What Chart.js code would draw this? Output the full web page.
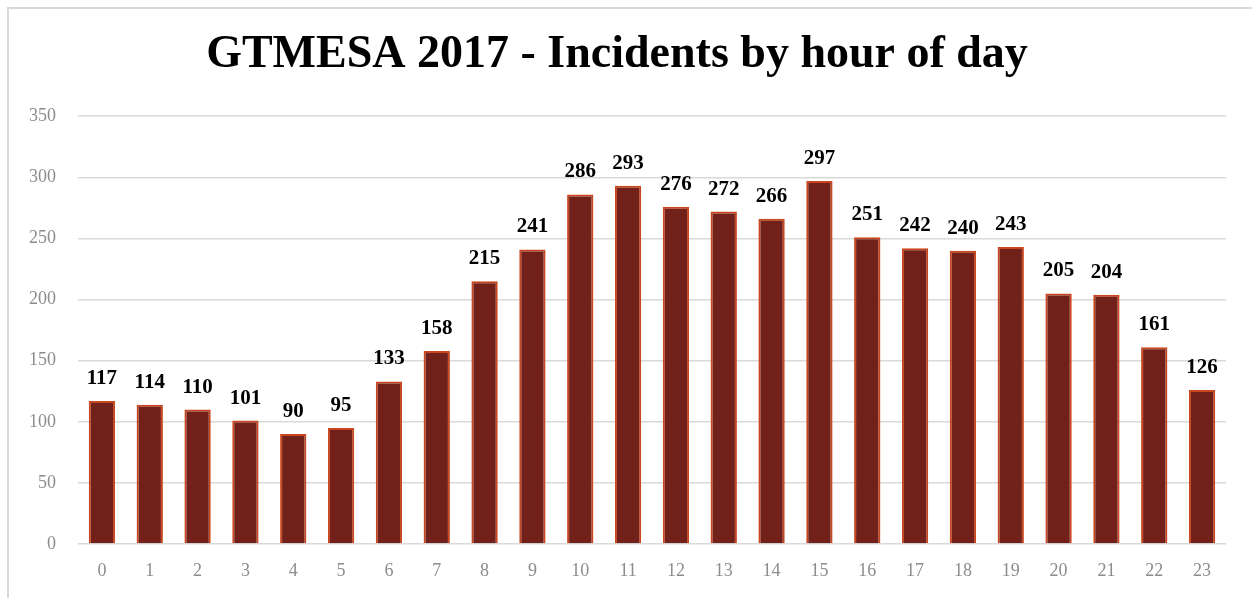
<!DOCTYPE html>
<html>
<head>
<meta charset="utf-8">
<script src="https://cdn.jsdelivr.net/npm/chart.js@4.4.1/dist/chart.umd.min.js"></script>
<style>
  html, body { margin: 0; padding: 0; background: #fff; }
  #wrap { position: relative; width: 1252px; height: 598px; overflow: hidden; }
  #frame {
    position: absolute; left: 7px; top: 7px; right: -10px; bottom: -10px;
    border-left: 2px solid #d9d9d9; border-top: 2px solid #d9d9d9;
  }
  canvas { position: absolute; left: 0; top: 0; }
</style>
</head>
<body>
<div id="wrap">
  <div id="frame"></div>
  <canvas id="chart" width="1252" height="598"></canvas>
</div>
<script>
const chartTitle = "GTMESA 2017 - Incidents by hour of day";
const hours = ["0","1","2","3","4","5","6","7","8","9","10","11","12","13","14","15","16","17","18","19","20","21","22","23"];
const incidents = [117, 114, 110, 101, 90, 95, 133, 158, 215, 241, 286, 293, 276, 272, 266, 297, 251, 242, 240, 243, 205, 204, 161, 126];
const yTicks = [0, 50, 100, 150, 200, 250, 300, 350];

const serif = "'Liberation Serif', 'DejaVu Serif', serif";

// writes the count above each bar
const valueLabels = {
  id: "valueLabels",
  afterDatasetsDraw(chart) {
    const ctx = chart.ctx;
    const meta = chart.getDatasetMeta(0);
    ctx.save();
    ctx.font = "bold 21px " + serif;
    ctx.fillStyle = "#000";
    ctx.textAlign = "center";
    ctx.textBaseline = "alphabetic";
    meta.data.forEach((bar, i) => {
      ctx.fillText(String(chart.data.datasets[0].data[i]), bar.x, bar.y - 17);
    });
    ctx.restore();
  }
};

const ctx = document.getElementById("chart").getContext("2d");
new Chart(ctx, {
  type: "bar",
  data: {
    labels: hours,
    datasets: [{
      label: "Incidents",
      data: incidents,
      backgroundColor: "#72211a",
      borderColor: "#c9471f",
      borderWidth: 2,
      borderSkipped: "bottom",
      categoryPercentage: 0.55,
      barPercentage: 1
    }]
  },
  options: {
    responsive: false,
    animation: false,
    devicePixelRatio: 1,
    layout: { padding: { left: 8, right: 26, top: 7, bottom: 0 } },
    plugins: {
      legend: { display: false },
      tooltip: { enabled: false },
      title: {
        display: true,
        text: chartTitle,
        color: "#000",
        font: { family: serif, size: 46, weight: "bold" },
        padding: { top: 21, bottom: 33 }
      }
    },
    scales: {
      x: {
        grid: { display: false, drawTicks: false },
        border: { display: false },
        ticks: { color: "#8c8c8c", font: { family: serif, size: 18 }, padding: 16 },
        afterFit: (s) => { s.height = 54; }
      },
      y: {
        min: 0,
        max: 350,
        afterBuildTicks: (s) => { s.ticks = yTicks.map(v => ({ value: v })); },
        grid: { color: "#d9d9d9", lineWidth: 1.5, drawTicks: false },
        border: { display: false },
        ticks: { color: "#8c8c8c", font: { family: serif, size: 18 }, padding: 22 },
        afterFit: (s) => { s.width = 70; }
      }
    }
  },
  plugins: [valueLabels]
});
</script>
</body>
</html>
